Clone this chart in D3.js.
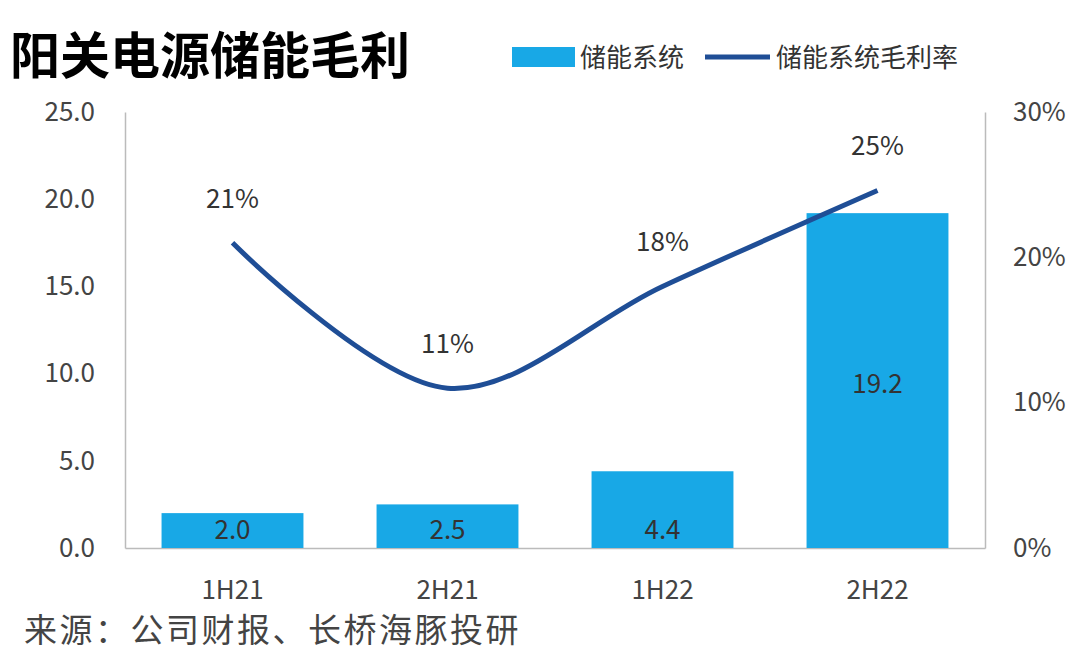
<!DOCTYPE html><html><head><meta charset="utf-8">
<script src="https://cdn.jsdelivr.net/npm/d3@7"></script>
<style>body{margin:0;background:#fff}</style></head><body><svg id="c" width="1080" height="658"></svg>
<script>
const categories=["1H21","2H21","1H22","2H22"];
const barValues=[2.0,2.5,4.4,19.2];
const marginValues=[21,11,18,24.6];
const marginLabels=["21%","11%","18%","25%"];
const leftTicks=[0,5,10,15,20,25];
const rightTicks=[0,10,20,30];
const svg=d3.select("#c");
const F="'Noto Sans CJK SC','Noto Sans',sans-serif";
const x=d3.scaleBand().domain(categories).range([125,985]).paddingInner(0.34).paddingOuter(0.17);
const y=d3.scaleLinear().domain([0,25]).range([548,112]);
const y2=d3.scaleLinear().domain([0,30]).range([548,112]);
const g=svg.append("g");
const la=g.append("g").attr("transform","translate(125,0)").call(d3.axisLeft(y).tickValues(leftTicks).tickFormat(d3.format(".1f")).tickSize(0).tickPadding(30));
const ra=g.append("g").attr("transform","translate(985,0)").call(d3.axisRight(y2).tickValues(rightTicks).tickFormat(d=>d+"%").tickSize(0).tickPadding(28));
const ba=g.append("g").attr("transform","translate(0,548)").call(d3.axisBottom(x).tickSize(0).tickPadding(28));
[la,ra,ba].forEach(a=>{a.selectAll("text").attr("font-family",F).attr("font-size",26).attr("fill","#444");a.select(".domain").attr("stroke","#bbb").attr("stroke-width",1.5);});
ba.selectAll("text").attr("dy","0.9em");
g.selectAll("rect.bar").data(barValues).join("rect").attr("x",(d,i)=>x(categories[i])).attr("width",x.bandwidth()).attr("y",d=>y(d)).attr("height",d=>548-y(d)).attr("fill","#18a8e6");
g.selectAll("text.bl").data(barValues).join("text").attr("x",(d,i)=>x(categories[i])+x.bandwidth()/2).attr("y",d=>d>10?(y(d)+548)/2+12:539).attr("text-anchor","middle").attr("font-family",F).attr("font-size",26).attr("fill","#333").text(d=>d.toFixed(1));
const line=d3.line().x((d,i)=>x(categories[i])+x.bandwidth()/2).y(d=>y2(d)).curve(d3.curveCatmullRom.alpha(0.5));
g.append("path").attr("d",line(marginValues)).attr("fill","none").attr("stroke","#1f4e96").attr("stroke-width",5);
g.selectAll("text.ml").data(marginValues).join("text").attr("x",(d,i)=>x(categories[i])+x.bandwidth()/2).attr("y",d=>y2(d)-35).attr("text-anchor","middle").attr("font-family",F).attr("font-size",26).attr("fill","#333").text((d,i)=>marginLabels[i]);
svg.append("text").attr("x",10).attr("y",74).attr("font-family",F).attr("font-weight","bold").attr("font-size",50).attr("fill","#000").text("阳关电源储能毛利");
svg.append("rect").attr("x",512).attr("y",47).attr("width",63).attr("height",20).attr("fill","#18a8e6");
svg.append("text").attr("x",580).attr("y",67).attr("font-family",F).attr("font-size",26).attr("fill","#333").text("储能系统");
svg.append("line").attr("x1",705).attr("x2",770).attr("y1",57).attr("y2",57).attr("stroke","#1f4e96").attr("stroke-width",5);
svg.append("text").attr("x",776).attr("y",67).attr("font-family",F).attr("font-size",26).attr("fill","#333").text("储能系统毛利率");
svg.append("text").attr("x",24).attr("y",642).attr("font-family",F).attr("font-size",33).attr("letter-spacing",2.5).attr("fill","#444").text("来源：公司财报、长桥海豚投研");
</script></body></html>
